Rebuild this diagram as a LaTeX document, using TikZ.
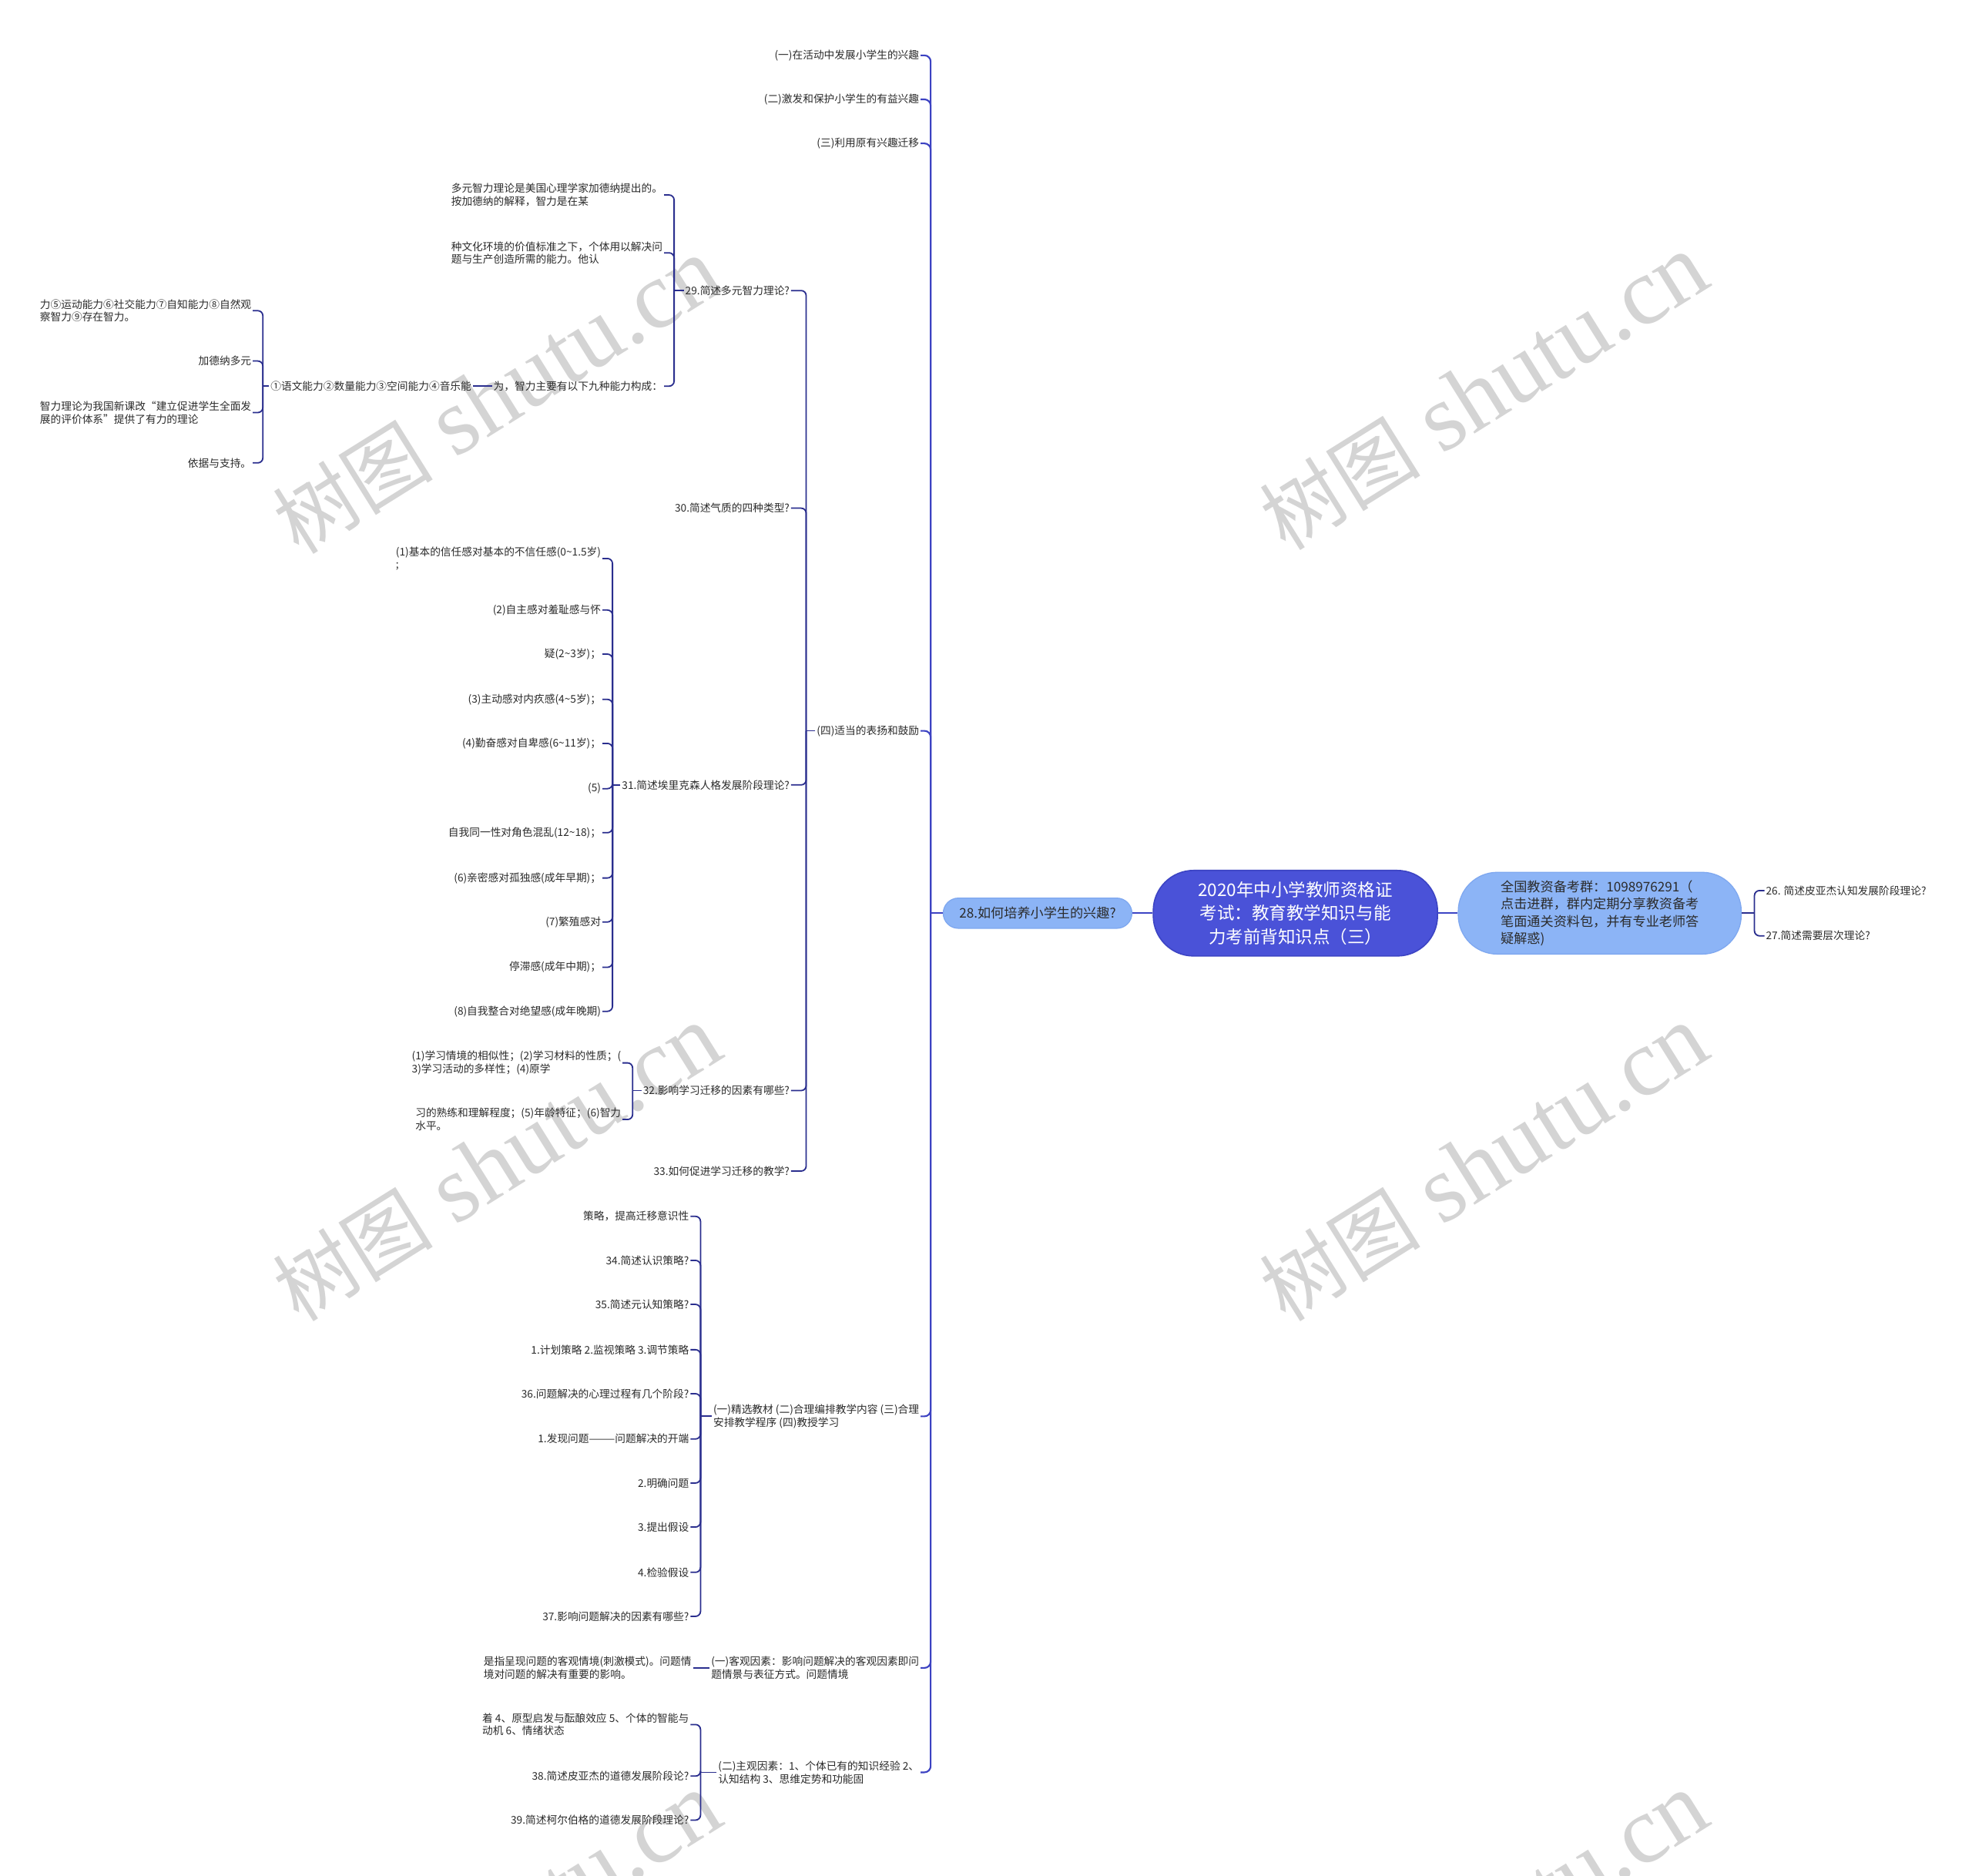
\documentclass[tikz,border=0pt]{standalone}
\usepackage{fontspec}
\newfontfamily\cjk{Noto Sans CJK SC}
\newfontfamily\wmlat{Liberation Serif}
\usetikzlibrary{calc}
\definecolor{trunkc}{HTML}{3C42C2}
\definecolor{linec}{HTML}{2A2E8E}
\definecolor{rootfill}{HTML}{4A52D8}
\definecolor{rootdraw}{HTML}{3C44C4}
\definecolor{lvfill}{HTML}{8CB4F6}
\definecolor{lvdraw}{HTML}{7FA8F0}
\definecolor{txt}{HTML}{2B2B2B}
\definecolor{wm}{HTML}{D4D4D4}
\begin{document}
\begin{tikzpicture}[x=1pt,y=-1pt,
  lbl/.style={inner sep=1pt, font=\cjk\fontsize{8.4}{10.2}\selectfont, text=txt, align=left},
  conn/.style={draw=linec, line width=1.1pt, rounded corners=4pt},
  trunk/.style={draw=trunkc, line width=1.3pt, rounded corners=5pt},
  rootline/.style={draw=rootdraw, line width=1.3pt},
  rootbox/.style={draw=rootdraw, fill=rootfill, text=white, rounded corners=32pt, minimum width=226pt, minimum height=68pt, align=center, line width=1pt, font=\cjk\fontsize{13.8}{18.5}\selectfont},
  lvbox/.style={draw=lvdraw, fill=lvfill, text=txt, line width=0.8pt, font=\cjk\fontsize{10.5}{13.7}\selectfont},
  wmark/.style={rotate=32, text=wm, inner sep=0pt}
]
\useasboundingbox (0,0) rectangle (1568,1491);
\fill[white] (0,0) rectangle (1568,1491);
% watermarks
\begin{scope}
\clip (0,0) rectangle (1568,1491);
\foreach \wx/\wy [count=\i] in {395/315,1180/312,395/925,1180/925,395/1535,1180/1535}
  \node[wmark] (wm\i) at (\wx,\wy) {{\cjk\fontsize{64}{64}\selectfont 树图}\hspace{18pt}{\wmlat\fontsize{76}{76}\selectfont shutu.cn}};
\end{scope}

% bracket x positions
\coordinate (bR) at (1395,0);
\coordinate (b28) at (740,0);
\coordinate (b4) at (641,0);
\coordinate (b29) at (536,0);
\coordinate (ba4) at (209,0);
\coordinate (b31) at (487,0);
\coordinate (b32) at (503,0);
\coordinate (b5) at (557,0);
\coordinate (b7) at (557,0);

% main nodes
\node[rootbox] (root) at (1030,726) {2020年中小学教师资格证\\考试：教育教学知识与能\\力考前背知识点（三）};
\node[lvbox, minimum width=225pt, minimum height=65pt, rounded corners=31pt, align=left] (r1) at (1272,726) {全国教资备考群：1098976291（\\点击进群，群内定期分享教资备考\\笔面通关资料包，并有专业老师答\\疑解惑)};
\node[lvbox, minimum width=150pt, minimum height=24pt, rounded corners=12pt] (n28) at (825,726) {28.如何培养小学生的兴趣?};

\draw[rootline] (root.east) -- (r1.west);
\draw[rootline] (root.west) -- (n28.east);

% right children
\node[lbl, anchor=west] (c26) at (1403,708) {26. 简述皮亚杰认知发展阶段理论?};
\node[lbl, anchor=west] (c27) at (1403,744) {27.简述需要层次理论?};
\draw[conn] (r1.east) -- (r1.east -| bR);
\foreach \c in {c26,c27} \draw[conn] (r1.east -| bR) |- (\c.west);

% trunk children of 28
\node[lbl, anchor=east] (t1) at (732,44) {(一)在活动中发展小学生的兴趣};
\node[lbl, anchor=east] (t2) at (732,79) {(二)激发和保护小学生的有益兴趣};
\node[lbl, anchor=east] (t3) at (732,114) {(三)利用原有兴趣迁移};
\node[lbl, anchor=east] (t4) at (732,581) {(四)适当的表扬和鼓励};
\node[lbl, anchor=east] (t5) at (732,1126) {(一)精选教材 (二)合理编排教学内容 (三)合理\\安排教学程序 (四)教授学习};
\node[lbl, anchor=east] (t6) at (732,1326) {(一)客观因素：影响问题解决的客观因素即问\\题情景与表征方式。问题情境};
\node[lbl, anchor=east] (t7) at (732,1409) {(二)主观因素：1、个体已有的知识经验 2、\\认知结构 3、思维定势和功能固};
\draw[trunk] (n28.west) -- (n28.west -| b28);
\foreach \c in {t1,t2,t3,t4,t5,t6,t7} \draw[trunk] (n28.west -| b28) |- (\c.east);

% (四) children
\node[lbl, anchor=east] (q29) at (629,231) {29.简述多元智力理论?};
\node[lbl, anchor=east] (q30) at (629,404) {30.简述气质的四种类型?};
\node[lbl, anchor=east] (q31) at (629,624) {31.简述埃里克森人格发展阶段理论?};
\node[lbl, anchor=east] (q32) at (629,867) {32.影响学习迁移的因素有哪些?};
\node[lbl, anchor=east] (q33) at (629,931) {33.如何促进学习迁移的教学?};
\draw[conn] (t4.west) -- (t4.west -| b4);
\foreach \c in {q29,q30,q31,q32,q33} \draw[conn] (t4.west -| b4) |- (\c.east);

% 29 children
\node[lbl, anchor=east] (a1) at (528,155) {多元智力理论是美国心理学家加德纳提出的。\\按加德纳的解释，智力是在某};
\node[lbl, anchor=east] (a2) at (528,201) {种文化环境的价值标准之下，个体用以解决问\\题与生产创造所需的能力。他认};
\node[lbl, anchor=east] (a3) at (528,307) {为，智力主要有以下九种能力构成：};
\draw[conn] (q29.west) -- (q29.west -| b29);
\foreach \c in {a1,a2,a3} \draw[conn] (q29.west -| b29) |- (\c.east);

\node[lbl, anchor=east] (a4) at (376,307) {①语文能力②数量能力③空间能力④音乐能};
\draw[conn] (a3.west) -- (a4.east);

\node[lbl, anchor=east] (a5) at (201,247) {力⑤运动能力⑥社交能力⑦自知能力⑧自然观\\察智力⑨存在智力。};
\node[lbl, anchor=east] (a6) at (201,287) {加德纳多元};
\node[lbl, anchor=east] (a7) at (201,328) {智力理论为我国新课改“建立促进学生全面发\\展的评价体系”提供了有力的理论};
\node[lbl, anchor=east] (a8) at (201,368) {依据与支持。};
\draw[conn] (a4.west) -- (a4.west -| ba4);
\foreach \c in {a5,a6,a7,a8} \draw[conn] (a4.west -| ba4) |- (\c.east);

% 31 children
\node[lbl, anchor=east] (e1) at (479,444) {(1)基本的信任感对基本的不信任感(0\textasciitilde 1.5岁)\\;};
\node[lbl, anchor=east] (e2) at (479,485) {(2)自主感对羞耻感与怀};
\node[lbl, anchor=east] (e3) at (479,520) {疑(2\textasciitilde 3岁)；};
\node[lbl, anchor=east] (e4) at (479,556) {(3)主动感对内疚感(4\textasciitilde 5岁)；};
\node[lbl, anchor=east] (e5) at (479,591) {(4)勤奋感对自卑感(6\textasciitilde 11岁)；};
\node[lbl, anchor=east] (e6) at (479,627) {(5)};
\node[lbl, anchor=east] (e7) at (479,662) {自我同一性对角色混乱(12\textasciitilde 18)；};
\node[lbl, anchor=east] (e8) at (479,698) {(6)亲密感对孤独感(成年早期)；};
\node[lbl, anchor=east] (e9) at (479,733) {(7)繁殖感对};
\node[lbl, anchor=east] (e10) at (479,769) {停滞感(成年中期)；};
\node[lbl, anchor=east] (e11) at (479,804) {(8)自我整合对绝望感(成年晚期)};
\draw[conn] (q31.west) -- (q31.west -| b31);
\foreach \c in {e1,e2,e3,e4,e5,e6,e7,e8,e9,e10,e11} \draw[conn] (q31.west -| b31) |- (\c.east);

% 32 children
\node[lbl, anchor=east] (f1) at (495,845) {(1)学习情境的相似性；(2)学习材料的性质；(\\3)学习活动的多样性；(4)原学};
\node[lbl, anchor=east] (f2) at (495,890) {习的熟练和理解程度；(5)年龄特征；(6)智力\\水平。};
\draw[conn] (q32.west) -- (q32.west -| b32);
\foreach \c in {f1,f2} \draw[conn] (q32.west -| b32) |- (\c.east);

% t5 children
\node[lbl, anchor=east] (g1) at (549,967) {策略，提高迁移意识性};
\node[lbl, anchor=east] (g2) at (549,1002) {34.简述认识策略?};
\node[lbl, anchor=east] (g3) at (549,1037) {35.简述元认知策略?};
\node[lbl, anchor=east] (g4) at (549,1073) {1.计划策略 2.监视策略 3.调节策略};
\node[lbl, anchor=east] (g5) at (549,1108) {36.问题解决的心理过程有几个阶段?};
\node[lbl, anchor=east] (g6) at (549,1144) {1.发现问题———问题解决的开端};
\node[lbl, anchor=east] (g7) at (549,1179) {2.明确问题};
\node[lbl, anchor=east] (g8) at (549,1214) {3.提出假设};
\node[lbl, anchor=east] (g9) at (549,1250) {4.检验假设};
\node[lbl, anchor=east] (g10) at (549,1285) {37.影响问题解决的因素有哪些?};
\draw[conn] (t5.west) -- (t5.west -| b5);
\foreach \c in {g1,g2,g3,g4,g5,g6,g7,g8,g9,g10} \draw[conn] (t5.west -| b5) |- (\c.east);

% t6 child
\node[lbl, anchor=east] (h1) at (551,1326) {是指呈现问题的客观情境(刺激模式)。问题情\\境对问题的解决有重要的影响。};
\draw[conn] (t6.west) -- (h1.east);

% t7 children
\node[lbl, anchor=east] (k1) at (549,1371) {着 4、原型启发与酝酿效应 5、个体的智能与\\动机 6、情绪状态};
\node[lbl, anchor=east] (k2) at (549,1412) {38.简述皮亚杰的道德发展阶段论?};
\node[lbl, anchor=east] (k3) at (549,1447) {39.简述柯尔伯格的道德发展阶段理论?};
\draw[conn] (t7.west) -- (t7.west -| b7);
\foreach \c in {k1,k2,k3} \draw[conn] (t7.west -| b7) |- (\c.east);
\end{tikzpicture}
\end{document}
